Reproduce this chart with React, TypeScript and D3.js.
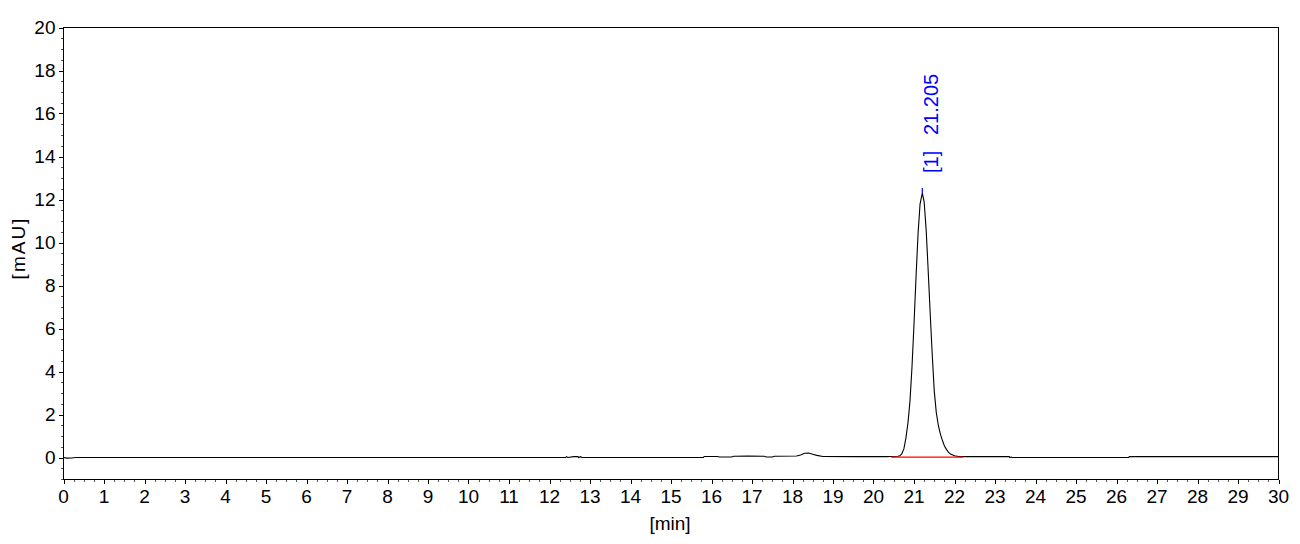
import React from "react";
import * as d3 from "d3";

// Chromatogram trace: retention time [min] and signal [mAU]
const times = [
  0, 0.08, 0.2, 0.3, 5, 12.4, 12.42, 12.45, 12.6, 12.7, 12.72, 12.77, 12.8,
  15.8, 15.82, 16.15, 16.2, 16.5, 16.55, 16.9, 17.3, 17.35, 17.5, 17.55, 18.1,
  18.2, 18.3, 18.4, 18.5, 18.6, 18.75, 19.5, 20.3, 20.6,
  20.65, 20.7, 20.75, 20.8, 20.85, 20.9, 20.95, 21.0, 21.05, 21.1, 21.15, 21.205,
  21.25, 21.3, 21.35, 21.4, 21.45, 21.5, 21.55, 21.6, 21.65, 21.7, 21.75, 21.8,
  21.85, 21.9, 22.0, 22.1, 22.3, 23.35, 23.37, 23.4, 23.42, 26.3, 26.32, 30,
];
const signal = [
  0, -0.03, -0.02, 0, 0, 0, 0.04, 0, 0.04, 0.04, 0, 0.04, 0,
  0, 0.05, 0.05, 0.02, 0.02, 0.06, 0.07, 0.06, 0.02, 0.02, 0.06, 0.07,
  0.12, 0.2, 0.21, 0.15, 0.1, 0.05, 0.04, 0.04, 0.06,
  0.08, 0.18, 0.4, 0.9, 1.6, 2.6, 4.2, 6.2, 8.4, 10.4, 11.8, 12.3,
  11.9, 10.6, 8.7, 6.7, 4.8, 3.1, 2.1, 1.5, 1.1, 0.8, 0.55, 0.38,
  0.25, 0.16, 0.08, 0.05, 0.04, 0.04, 0, 0.02, 0, 0, 0.04, 0.04,
];

// Integrated peak
const peakNumber = ["[1]"];
const peakTime = [21.205];
const peakHeight = [12.3];
const integrationStart = [20.44];
const integrationEnd = [22.22];
const integrationLevel = [0.02];

// Axes
const xTicks = d3.range(0, 31, 1);
const yTicks = d3.range(0, 21, 2);
const xMinorTicks = d3.range(0, 30.01, 0.25);
const yMinorTicks = d3.range(-1, 20.01, 0.5);
const xTitle = "[min]";
const yTitle = "[mAU]";

const W = 1300;
const H = 544;
const L = 63.5, R = 1278.5, T = 27.5, B = 479.5;
const FONT = "'Liberation Sans', Arial, sans-serif";

export default function App() {
  const x = d3.scaleLinear().domain([0, 30]).range([L, R]);
  const y = d3.scaleLinear().domain([0, 20]).range([457.5, T]);
  const pts = times.map((t, i) => [t, signal[i]] as [number, number]);
  const line = d3.line<[number, number]>().x((d) => x(d[0])).y((d) => y(d[1]));

  return (
    <svg width={W} height={H} style={{ position: "absolute", left: 0, top: 0, background: "#fff" }}>
      <rect x={0} y={0} width={W} height={H} fill="#fff" />
      {/* minor ticks */}
      {xMinorTicks.filter((v) => Math.abs(v - Math.round(v)) > 1e-6).map((v, i) => (
        <line key={"xm" + i} x1={Math.round(x(v)) + 0.5} x2={Math.round(x(v)) + 0.5} y1={B} y2={B + 2.5}
          stroke="#555" strokeWidth={1} shapeRendering="crispEdges" />
      ))}
      {yMinorTicks.filter((v) => Math.abs(v / 2 - Math.round(v / 2)) > 1e-6).map((v, i) => (
        <line key={"ym" + i} x1={L - 2.5} x2={L} y1={Math.round(y(v)) + 0.5} y2={Math.round(y(v)) + 0.5}
          stroke="#555" strokeWidth={1} shapeRendering="crispEdges" />
      ))}
      {/* major ticks and labels */}
      {xTicks.map((v) => (
        <g key={"x" + v}>
          <line x1={Math.round(x(v)) + 0.5} x2={Math.round(x(v)) + 0.5} y1={B} y2={B + 4}
            stroke="#000" strokeWidth={1} shapeRendering="crispEdges" />
          <text x={x(v)} y={502.5} textAnchor="middle" fontFamily={FONT} fontSize={19} fill="#000">{v}</text>
        </g>
      ))}
      {yTicks.map((v) => (
        <g key={"y" + v}>
          <line x1={L - 5} x2={L} y1={Math.round(y(v)) + 0.5} y2={Math.round(y(v)) + 0.5}
            stroke="#000" strokeWidth={1} shapeRendering="crispEdges" />
          <text x={55.5} y={y(v)} dy="0.36em" textAnchor="end" fontFamily={FONT} fontSize={19} fill="#000">{v}</text>
        </g>
      ))}
      {/* axis titles */}
      <text x={670} y={530} textAnchor="middle" fontFamily={FONT} fontSize={19} fill="#000">{xTitle}</text>
      <text transform={`translate(25, ${248}) rotate(-90)`} textAnchor="middle" fontFamily={FONT} fontSize={19}
        letterSpacing={2} fill="#000">{yTitle}</text>
      {/* trace */}
      <path d={line(pts) || ""} fill="none" stroke="#000" strokeWidth={1.1} strokeLinejoin="miter" />
      {/* integration baseline */}
      {integrationStart.map((s, i) => (
        <line key={"ib" + i} x1={x(s)} x2={x(integrationEnd[i])} y1={y(integrationLevel[i])} y2={y(integrationLevel[i])}
          stroke="#ff0000" strokeWidth={1.2} />
      ))}
      {/* peak markers and labels */}
      {peakTime.map((t, i) => {
        const px = x(t);
        const py = y(peakHeight[i]);
        return (
          <g key={"pk" + i}>
            <line x1={px} x2={px} y1={py} y2={py - 5} stroke="#0000ff" strokeWidth={1.2} />
            <text transform={`translate(${px + 16}, ${py - 20}) rotate(-90)`} fontFamily={FONT} fontSize={20} fill="#0000ff">{peakNumber[i]}</text>
            <text transform={`translate(${px + 16}, ${py - 58}) rotate(-90)`} fontFamily={FONT} fontSize={20} fill="#0000ff">{t.toFixed(3)}</text>
          </g>
        );
      })}
      {/* frame */}
      <rect x={L} y={T} width={R - L} height={B - T} fill="none" stroke="#000" strokeWidth={1.3} shapeRendering="crispEdges" />
    </svg>
  );
}
